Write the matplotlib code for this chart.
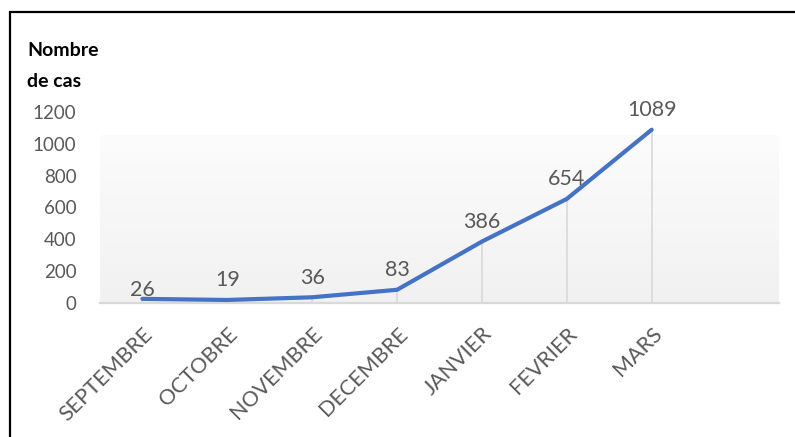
import numpy as np
import matplotlib
matplotlib.use("Agg")
import matplotlib.pyplot as plt
from matplotlib.patches import Rectangle
from matplotlib.colors import LinearSegmentedColormap

# Monthly case counts
months = ["SEPTEMBRE", "OCTOBRE", "NOVEMBRE", "DECEMBRE", "JANVIER", "FEVRIER", "MARS"]
cases = [26, 19, 36, 83, 386, 654, 1089]
y_ticks = [0, 200, 400, 600, 800, 1000, 1200]
y_label = "Nombre\nde cas"

plt.rcParams["font.family"] = ["Lato", "DejaVu Sans"]
text_grey = "#595959"
line_blue = "#4472C4"

fig = plt.figure(figsize=(7.95, 4.37), dpi=100)
ax = fig.add_axes([100 / 795, 1 - 303 / 437, 679 / 795, (303 - 112) / 437])

x = np.arange(len(months))
ax.set_xlim(-0.5, 7.5)
ax.set_ylim(0, 1200)

# soft vertical gradient behind the data
grad = np.linspace(0, 1, 256).reshape(-1, 1)
cmap = LinearSegmentedColormap.from_list("bg", ["#F1F1F1", "#FCFCFC"])
ax.imshow(grad, cmap=cmap, origin="lower", aspect="auto",
          extent=[-0.5, 7.5, 0, 1050], zorder=0)

# drop lines from each point to the axis
ax.vlines(x, 0, cases, color="#D9D9D9", lw=1.2, zorder=1)

ax.plot(x, cases, color=line_blue, lw=3.0, solid_capstyle="round",
        solid_joinstyle="round", zorder=3)

# value labels above points
for xi, v in zip(x, cases):
    dy = -1 if v == cases[0] else 7
    ax.annotate(str(v), (xi, v), xytext=(0, dy), textcoords="offset points",
                ha="center", va="bottom", fontsize=15.5, color=text_grey, zorder=4)

for s in ["top", "right", "left"]:
    ax.spines[s].set_visible(False)
ax.spines["bottom"].set_color("#D9D9D9")
ax.spines["bottom"].set_linewidth(1.6)

ax.set_yticks(y_ticks)
ax.set_yticklabels([str(t) for t in y_ticks], fontsize=13.5)
ax.set_xticks(x)
ax.set_xticklabels(months, rotation=45, ha="right", va="top",
                   rotation_mode="anchor", fontsize=15.5)
ax.tick_params(axis="both", length=0, colors=text_grey)
ax.tick_params(axis="x", pad=15)
ax.tick_params(axis="y", pad=17)

fig.text(27 / 795, 1 - 66 / 437, y_label, ha="left", va="center",
         fontsize=14, fontweight="bold", color="black", linespacing=2.0)

# frame around the chart
fig.patches.append(Rectangle((10 / 795, -0.1), 1.2, 1 - 12.5 / 437 + 0.1,
                             transform=fig.transFigure, fill=False,
                             edgecolor="black", lw=1.6, zorder=10))

fig.savefig("out.png", dpi=100)
